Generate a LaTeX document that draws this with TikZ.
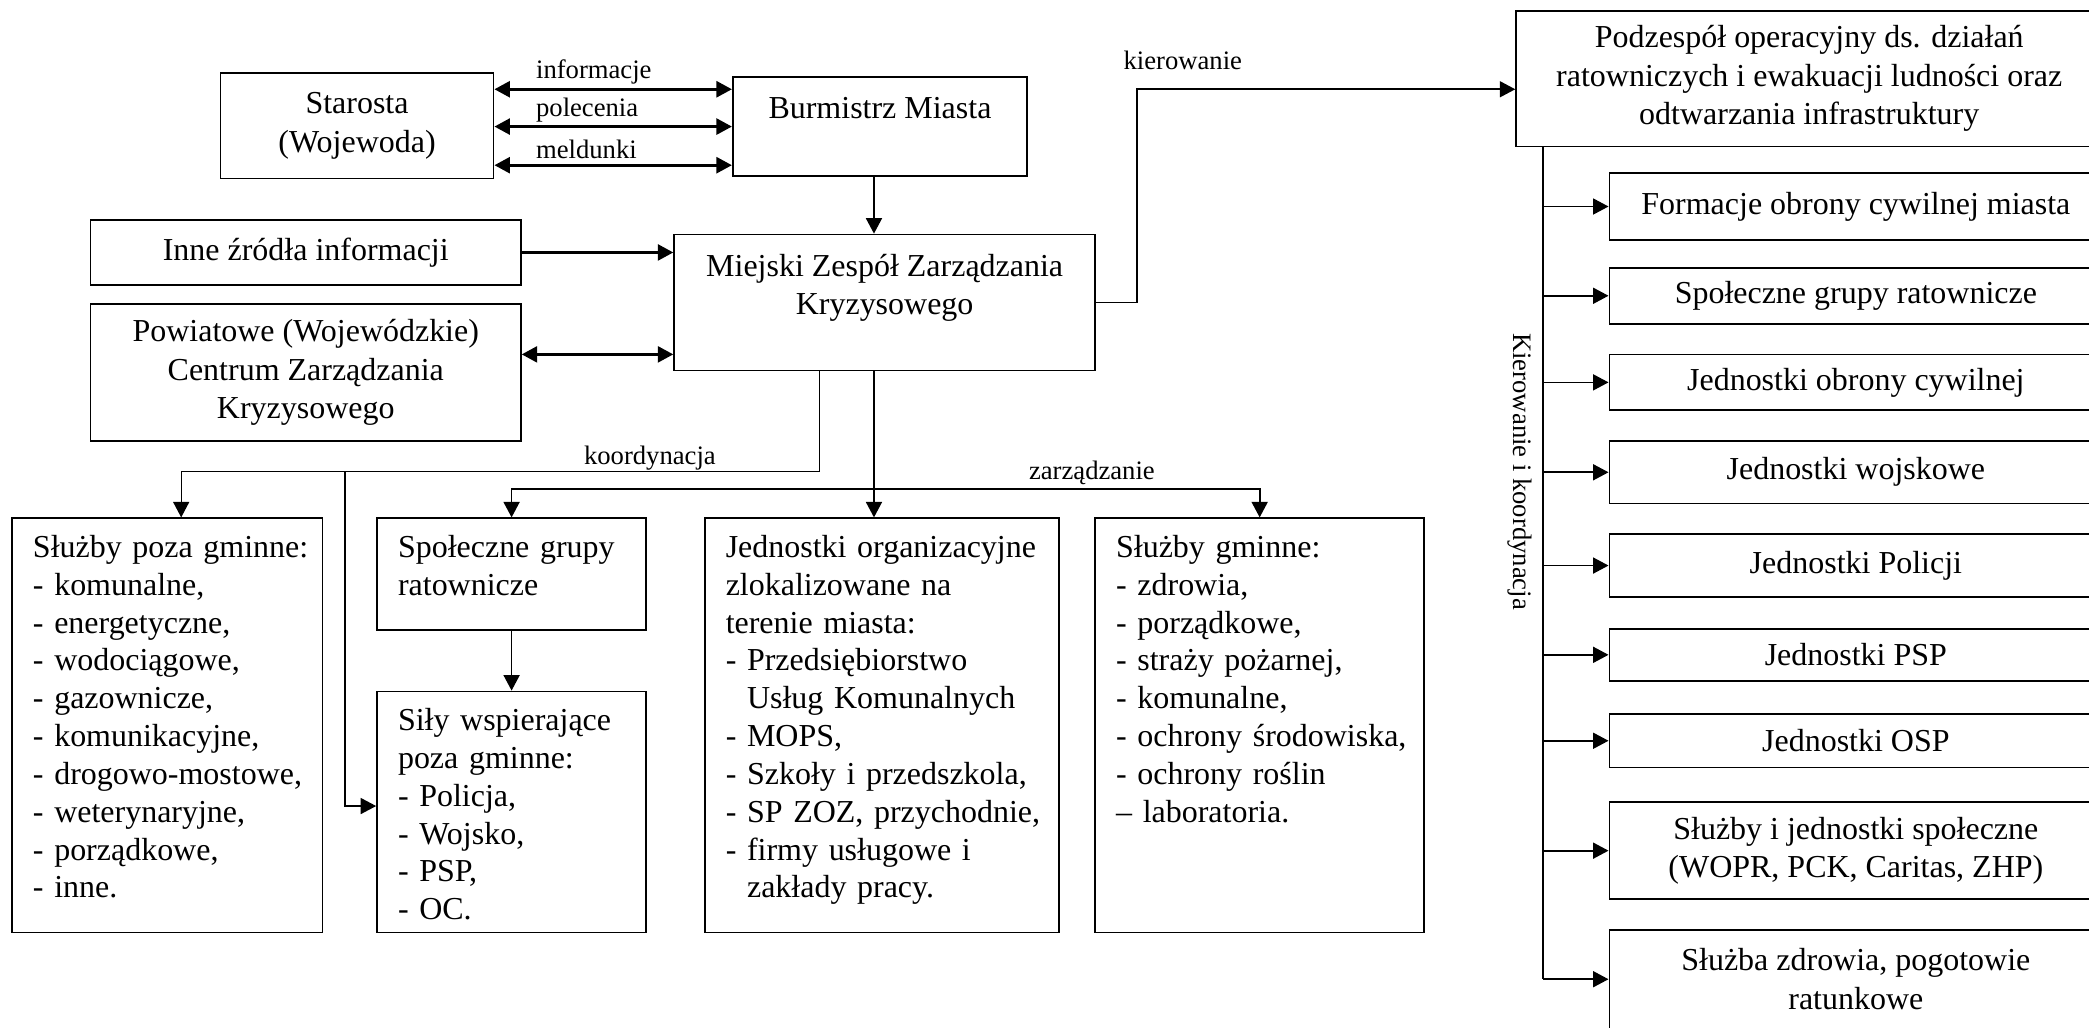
\documentclass[tikz,border=0pt]{standalone}
\usepackage{fontspec}
\setmainfont{Liberation Serif}
\usetikzlibrary{arrows.meta}

\tikzset{
  box/.style={draw, line width=0.65pt, align=center, inner sep=2pt,
    font=\fontsize{12}{14.4}\selectfont},
  lst/.style={anchor=base west, align=left, inner sep=0pt,
    font=\fontsize{12}{14.2}\selectfont},
  lbl/.style={inner sep=0pt, font=\fontsize{10}{12}\selectfont},
  arr/.style={-{Triangle[length=5.8pt,width=6pt]}, line width=0.65pt},
  barr/.style={-{Triangle[length=5.8pt,width=6pt]}, line width=1pt},
  darr/.style={{Triangle[length=5.8pt,width=6pt]}-{Triangle[length=5.8pt,width=6pt]}, line width=1pt}
}

\begin{document}
\begin{tikzpicture}[x=0.5pt,y=-0.5pt]

\useasboundingbox (0,0) rectangle (1568,771);
\clip (0,0) rectangle (1568,771);

\node[box, minimum width=102.5pt, minimum height=39.5pt] (starosta) at (268,94.5) {Starosta\\(Wojewoda)};

\node[box, minimum width=110.5pt, minimum height=37pt] (burmistrz) at (660.5,95) {Burmistrz Miasta\\[-5pt]\strut};

\node[box, minimum width=158pt, minimum height=51pt] (mzzk) at (664,227) {Miejski Zespół Zarządzania\\Kryzysowego\\[-5pt]\strut};

\node[box, minimum width=161.5pt, minimum height=24.5pt] (inne) at (229.5,189.5) {Inne źródła informacji};

\node[box, minimum width=161.5pt, minimum height=51.5pt] (powiat) at (229.5,279.5) {Powiatowe (Wojewódzkie)\\Centrum Zarządzania\\Kryzysowego};

\node[box, minimum width=220pt, minimum height=51pt] (podzesp) at (1358,59) {Podzespół operacyjny ds. działań\\ratowniczych i ewakuacji ludności oraz\\odtwarzania infrastruktury};


\node[box, minimum width=116.5pt, minimum height=155.5pt] (pozagm) at (125.5,544.5) {};

\node[lst, text width=105pt] (pozagmt) at ([shift={(8pt,-15pt)}]pozagm.north west) {Służby poza gminne:\\- komunalne,\\- energetyczne,\\- wodociągowe,\\- gazownicze,\\- komunikacyjne,\\- drogowo-mostowe,\\- weterynaryjne,\\- porządkowe,\\- inne.};

\node[box, minimum width=101pt, minimum height=42pt] (spgr) at (384,431) {};

\node[lst, text width=90pt] (spgrt) at ([shift={(8pt,-15pt)}]spgr.north west) {Społeczne grupy\\ratownicze};

\node[box, minimum width=101pt, minimum height=90.5pt] (sily) at (384,609.5) {};

\node[lst, text width=90pt] (silyt) at ([shift={(8pt,-15pt)}]sily.north west) {Siły wspierające\\poza gminne:\\- Policja,\\- Wojsko,\\- PSP,\\- OC.};

\node[box, minimum width=133pt, minimum height=155.5pt] (jedn) at (662,544.5) {};

\node[lst, text width=122pt] (jednt) at ([shift={(8pt,-15pt)}]jedn.north west) {Jednostki organizacyjne\\zlokalizowane na\\terenie miasta:\\- Przedsiębiorstwo\\\phantom{- }Usług Komunalnych\\- MOPS,\\- Szkoły i przedszkola,\\- SP ZOZ, przychodnie,\\- firmy usługowe i\\\phantom{- }zakłady pracy.};

\node[box, minimum width=123.5pt, minimum height=155.5pt] (gminne) at (945.5,544.5) {};

\node[lst, text width=112pt] (gminnet) at ([shift={(8pt,-15pt)}]gminne.north west) {Służby gminne:\\- zdrowia,\\- porządkowe,\\- straży pożarnej,\\- komunalne,\\- ochrony środowiska,\\- ochrony roślin\\– laboratoria.};


\node[box, minimum width=185pt, minimum height=25pt] (formacje) at (1393,155) {Formacje obrony cywilnej miasta};

\node[box, minimum width=185pt, minimum height=21pt] (grupy) at (1393,222) {Społeczne grupy ratownicze};

\node[box, minimum width=185pt, minimum height=21pt] (obrona) at (1393,287) {Jednostki obrony cywilnej};

\node[box, minimum width=185pt, minimum height=23.5pt] (wojsko) at (1393,354.5) {Jednostki wojskowe};

\node[box, minimum width=185pt, minimum height=23.5pt] (policja) at (1393,424.5) {Jednostki Policji};

\node[box, minimum width=185pt, minimum height=19.5pt] (psp) at (1393,491.5) {Jednostki PSP};

\node[box, minimum width=185pt, minimum height=20pt] (osp) at (1393,556) {Jednostki OSP};

\node[box, minimum width=185pt, minimum height=36.5pt] (spol) at (1393,638.5) {Służby i jednostki społeczne\\(WOPR, PCK, Caritas, ZHP)};

\node[box, minimum width=185pt, minimum height=37pt] (zdrowie) at (1393,735) {Służba zdrowia, pogotowie\\ratunkowe};


\draw[darr] (starosta.east |- 0,67) -- (burmistrz.west |- 0,67);

\draw[darr] (starosta.east |- 0,95) -- (burmistrz.west |- 0,95);

\draw[darr] (starosta.east |- 0,124) -- (burmistrz.west |- 0,124);

\node[lbl, anchor=west] (linf) at (402,54) {informacje};

\node[lbl, anchor=west] (lpol) at (402,83) {polecenia};

\node[lbl, anchor=west] (lmel) at (402,112) {meldunki};

\draw[arr] (656,0 |- burmistrz.south) -- (656,0 |- mzzk.north);

\draw[barr] (inne.east) -- (inne.east -| mzzk.west);

\draw[darr] (powiat.east |- 0,266) -- (mzzk.west |- 0,266);

\draw[arr] (mzzk.east) -- ++(31,0) |- (podzesp.west |- 0,67);

\node[lbl, anchor=west] (lkier) at (843,45) {kierowanie};

\draw[arr, line width=0.5pt] (615,0 |- mzzk.south) |- (136,354) -- (136,0 |- pozagm.north);

\draw[arr, line width=0.5pt] (259,354) |- (sily.west |- 0,605);

\node[lbl, anchor=west] (lkoord) at (438,344) {koordynacja};

\draw[arr] (656,0 |- mzzk.south) -- (656,0 |- jedn.north);

\draw[arr] (656,367) -| (spgr.north);

\draw[arr] (656,367) -| (gminne.north);

\node[lbl, anchor=west] (lzarz) at (772,355) {zarządzanie};

\draw[arr] (spgr.south) -- (sily.north);


\draw[line width=0.65pt] (1158,0 |- podzesp.south) -- (1158,0 |- zdrowie.west);

\draw[arr] (1158,0 |- formacje.west) -- (formacje.west);

\draw[arr] (1158,0 |- grupy.west) -- (grupy.west);

\draw[arr] (1158,0 |- obrona.west) -- (obrona.west);

\draw[arr] (1158,0 |- wojsko.west) -- (wojsko.west);

\draw[arr] (1158,0 |- policja.west) -- (policja.west);

\draw[arr] (1158,0 |- psp.west) -- (psp.west);

\draw[arr] (1158,0 |- osp.west) -- (osp.west);

\draw[arr] (1158,0 |- spol.west) -- (spol.west);

\draw[arr] (1158,0 |- zdrowie.west) -- (zdrowie.west);

\node[lbl, rotate=-90] (lkk) at (1141,354) {Kierowanie i koordynacja};

\end{tikzpicture}
\end{document}
